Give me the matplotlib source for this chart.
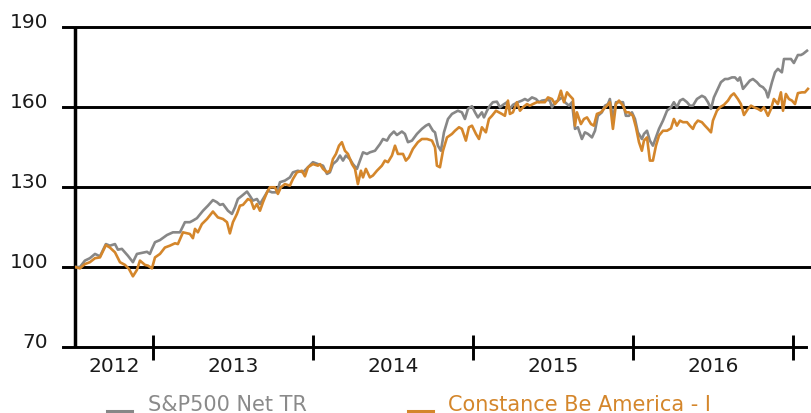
import matplotlib
matplotlib.use("Agg")
import matplotlib.pyplot as plt
from matplotlib.lines import Line2D
from matplotlib.transforms import blended_transform_factory

# ==================== DATEN ====================
# S&P500 Net TR (Zeit in Dezimaljahren, Wert indexiert auf 100)
sp_t = [2012.513, 2012.544, 2012.575, 2012.606, 2012.638, 2012.669, 2012.706, 2012.731, 2012.763, 2012.781,
        2012.806, 2012.825, 2012.844, 2012.875, 2012.900, 2012.931, 2012.963, 2012.981, 2012.994, 2013.013,
        2013.044, 2013.088, 2013.125, 2013.169, 2013.200, 2013.231, 2013.250, 2013.275, 2013.313, 2013.344,
        2013.375, 2013.400, 2013.419, 2013.438, 2013.469, 2013.494, 2013.513, 2013.531, 2013.556, 2013.588,
        2013.606, 2013.625, 2013.650, 2013.669, 2013.700, 2013.719, 2013.744, 2013.775, 2013.794, 2013.825,
        2013.856, 2013.875, 2013.906, 2013.938, 2013.969, 2014.000, 2014.031, 2014.063, 2014.088, 2014.106,
        2014.125, 2014.150, 2014.169, 2014.188, 2014.206, 2014.231, 2014.250, 2014.275, 2014.294, 2014.313,
        2014.338, 2014.356, 2014.388, 2014.419, 2014.438, 2014.463, 2014.481, 2014.506, 2014.525, 2014.556,
        2014.575, 2014.594, 2014.619, 2014.650, 2014.681, 2014.706, 2014.725, 2014.750, 2014.763, 2014.781,
        2014.800, 2014.819, 2014.844, 2014.869, 2014.888, 2014.906, 2014.931, 2014.950, 2014.969, 2014.994,
        2015.013, 2015.031, 2015.056, 2015.069, 2015.088, 2015.106, 2015.125, 2015.150, 2015.169, 2015.188,
        2015.213, 2015.231, 2015.250, 2015.281, 2015.306, 2015.325, 2015.344, 2015.369, 2015.394, 2015.413,
        2015.431, 2015.463, 2015.481, 2015.494, 2015.513, 2015.531, 2015.556, 2015.575, 2015.600, 2015.619,
        2015.638, 2015.656, 2015.681, 2015.700, 2015.719, 2015.744, 2015.763, 2015.781, 2015.806, 2015.825,
        2015.844, 2015.856, 2015.875, 2015.894, 2015.913, 2015.938, 2015.956, 2015.975, 2015.994, 2016.013,
        2016.031, 2016.056, 2016.069, 2016.088, 2016.106, 2016.125, 2016.144, 2016.163, 2016.188, 2016.213,
        2016.238, 2016.256, 2016.275, 2016.294, 2016.313, 2016.338, 2016.356, 2016.375, 2016.400, 2016.431,
        2016.450, 2016.469, 2016.488, 2016.506, 2016.531, 2016.550, 2016.575, 2016.594, 2016.619, 2016.638,
        2016.656, 2016.669, 2016.688, 2016.713, 2016.731, 2016.750, 2016.775, 2016.794, 2016.813, 2016.831,
        2016.844, 2016.869, 2016.888, 2016.906, 2016.931, 2016.944, 2016.969, 2016.988, 2017.006, 2017.031,
        2017.050, 2017.063, 2017.088]
sp_v = [100.0, 100.0, 102.4, 103.3, 104.9, 104.0, 108.6, 108.0, 108.6, 106.5,
        106.8, 105.5, 104.2, 101.8, 104.9, 105.3, 105.7, 104.9, 106.8, 109.3,
        110.1, 112.0, 113.0, 113.0, 116.8, 116.8, 117.4, 118.3, 121.1, 123.0,
        125.1, 124.3, 123.3, 123.6, 121.1, 119.9, 122.4, 125.5, 126.7, 128.3,
        126.7, 124.9, 125.5, 123.6, 126.7, 128.6, 128.0, 128.0, 131.8, 132.4,
        133.6, 135.5, 136.1, 135.5, 137.4, 139.3, 138.6, 138.0, 134.9, 135.5,
        138.6, 139.9, 141.8, 139.9, 141.8, 140.5, 138.6, 136.8, 139.9, 143.0,
        142.4, 143.0, 143.6, 146.1, 148.0, 147.4, 149.3, 150.8, 149.5, 150.8,
        149.9, 146.8, 147.4, 149.9, 151.8, 153.0, 153.6, 151.1, 150.5, 145.5,
        143.6, 150.5, 155.5, 157.4, 158.0, 158.6, 158.0, 155.5, 159.3, 160.3,
        158.0, 156.1, 158.0, 156.1, 158.6, 160.5, 161.8, 162.0, 159.9, 160.8,
        161.8, 159.3, 160.8, 161.8, 162.4, 163.0, 162.4, 163.6, 163.0, 161.8,
        162.4, 162.7, 162.4, 159.9, 161.8, 162.4, 163.6, 161.8, 160.5, 161.8,
        151.8, 152.4, 148.0, 150.5, 149.9, 148.6, 151.1, 156.7, 158.0, 160.5,
        161.1, 163.0, 155.5, 161.8, 161.8, 161.8, 156.7, 156.7, 158.0, 155.5,
        150.5, 148.0, 149.9, 151.1, 147.4, 145.5, 148.6, 151.8, 154.9, 158.6,
        159.9, 161.8, 159.9, 162.4, 163.0, 161.8, 160.5, 160.5, 163.0, 164.2,
        163.6, 161.8, 159.3, 163.6, 166.8, 169.3, 170.5, 170.5, 171.1, 171.1,
        169.9, 171.1, 166.8, 168.6, 169.9, 170.5, 169.3, 168.0, 167.4, 166.1,
        163.6, 169.3, 173.0, 174.3, 173.0, 178.0, 178.0, 178.0, 176.5, 179.5,
        179.5, 179.9, 181.1]

# Constance Be America - I
cba_t = [2012.513, 2012.544, 2012.575, 2012.606, 2012.638, 2012.669, 2012.706, 2012.731, 2012.763, 2012.794,
         2012.825, 2012.850, 2012.875, 2012.900, 2012.919, 2012.950, 2012.969, 2012.994, 2013.013, 2013.044,
         2013.075, 2013.106, 2013.138, 2013.156, 2013.188, 2013.231, 2013.250, 2013.263, 2013.281, 2013.306,
         2013.338, 2013.375, 2013.406, 2013.438, 2013.463, 2013.481, 2013.500, 2013.525, 2013.544, 2013.563,
         2013.594, 2013.613, 2013.631, 2013.650, 2013.669, 2013.688, 2013.713, 2013.731, 2013.763, 2013.781,
         2013.800, 2013.825, 2013.856, 2013.875, 2013.900, 2013.931, 2013.950, 2013.969, 2014.000, 2014.031,
         2014.044, 2014.063, 2014.088, 2014.106, 2014.125, 2014.144, 2014.163, 2014.181, 2014.200, 2014.219,
         2014.244, 2014.263, 2014.281, 2014.300, 2014.313, 2014.331, 2014.356, 2014.375, 2014.400, 2014.431,
         2014.450, 2014.469, 2014.494, 2014.513, 2014.531, 2014.563, 2014.581, 2014.600, 2014.625, 2014.656,
         2014.681, 2014.713, 2014.744, 2014.763, 2014.775, 2014.794, 2014.813, 2014.838, 2014.869, 2014.888,
         2014.913, 2014.931, 2014.956, 2014.975, 2014.994, 2015.019, 2015.038, 2015.056, 2015.081, 2015.100,
         2015.119, 2015.144, 2015.163, 2015.181, 2015.200, 2015.219, 2015.231, 2015.250, 2015.275, 2015.294,
         2015.313, 2015.338, 2015.356, 2015.375, 2015.400, 2015.431, 2015.450, 2015.469, 2015.494, 2015.513,
         2015.531, 2015.550, 2015.569, 2015.588, 2015.606, 2015.625, 2015.638, 2015.650, 2015.675, 2015.694,
         2015.713, 2015.738, 2015.756, 2015.775, 2015.800, 2015.819, 2015.838, 2015.856, 2015.875, 2015.894,
         2015.913, 2015.938, 2015.956, 2015.975, 2016.000, 2016.019, 2016.038, 2016.056, 2016.069, 2016.088,
         2016.106, 2016.125, 2016.144, 2016.163, 2016.188, 2016.213, 2016.238, 2016.256, 2016.275, 2016.294,
         2016.313, 2016.338, 2016.356, 2016.375, 2016.388, 2016.406, 2016.431, 2016.450, 2016.469, 2016.488,
         2016.500, 2016.525, 2016.544, 2016.569, 2016.594, 2016.613, 2016.631, 2016.656, 2016.675, 2016.694,
         2016.719, 2016.738, 2016.756, 2016.781, 2016.800, 2016.819, 2016.844, 2016.863, 2016.881, 2016.906,
         2016.925, 2016.938, 2016.956, 2016.975, 2016.994, 2017.013, 2017.031, 2017.056, 2017.075, 2017.094]
cba_v = [100.0, 99.5, 101.1, 101.8, 103.3, 103.6, 108.2, 107.3, 105.5, 101.8,
         100.8, 99.3, 96.5, 98.9, 102.4, 100.8, 100.5, 99.5, 103.6, 104.9,
         107.3, 108.0, 108.9, 108.6, 113.0, 112.4, 110.8, 114.3, 113.0, 116.1,
         118.0, 120.8, 118.6, 118.0, 116.8, 112.6, 116.8, 119.9, 123.0, 123.3,
         125.5, 124.9, 121.8, 123.6, 121.1, 124.3, 128.0, 129.9, 129.9, 127.4,
         129.9, 131.1, 130.5, 133.0, 135.5, 136.1, 134.0, 137.4, 138.6, 138.0,
         138.6, 136.8, 135.5, 136.1, 140.5, 142.4, 145.5, 146.8, 143.6, 142.4,
         138.6, 136.8, 131.1, 136.1, 133.6, 136.8, 133.6, 134.3, 136.1, 138.0,
         139.9, 139.3, 141.8, 145.5, 142.4, 142.4, 139.9, 141.1, 144.3, 146.8,
         148.0, 148.0, 147.4, 144.9, 138.0, 137.4, 143.6, 148.6, 149.9, 151.1,
         152.4, 151.8, 147.4, 152.4, 153.0, 149.9, 148.0, 152.4, 150.5, 155.5,
         156.7, 158.6, 158.0, 157.4, 156.7, 162.4, 157.4, 158.0, 161.8, 158.6,
         159.9, 161.1, 160.5, 161.1, 161.8, 161.8, 161.8, 163.6, 163.0, 161.1,
         162.4, 166.1, 161.8, 165.5, 164.2, 163.0, 153.0, 158.0, 153.6, 155.5,
         156.1, 153.6, 153.0, 157.4, 158.0, 159.3, 160.5, 161.8, 151.8, 161.1,
         162.4, 160.5, 158.0, 158.0, 156.7, 152.4, 146.8, 143.6, 147.4, 148.6,
         139.9, 139.9, 145.5, 149.3, 151.1, 151.1, 152.0, 155.5, 153.0, 154.9,
         154.3, 154.3, 153.0, 151.8, 153.6, 154.9, 154.3, 153.0, 151.8, 150.5,
         154.9, 158.6, 159.9, 160.8, 162.4, 164.2, 165.1, 163.0, 161.1, 157.0,
         159.3, 160.5, 159.9, 159.3, 158.6, 159.9, 156.7, 159.3, 163.0, 161.1,
         165.5, 158.6, 164.9, 163.0, 162.4, 161.1, 165.2, 165.5, 165.5, 166.8]

year_labels = ["2012", "2013", "2014", "2015", "2016"]
year_bounds = [2013, 2014, 2015, 2016, 2017]
y_levels = [70, 100, 130, 160, 190]
series_names = ["S&P500 Net TR", "Constance Be America - I"]
# =======================================================

GRAY = "#878787"
ORANGE = "#D4862B"

fig = plt.figure(figsize=(8.11, 4.14), dpi=100)
ax = fig.add_axes([75 / 811, 66 / 414, 736 / 811, 320 / 414])
ax.set_xlim(2012.513, 2017.113)
ax.set_ylim(70, 190)

# Rahmen
for side in ["top", "right", "bottom"]:
    ax.spines[side].set_visible(False)
ax.spines["left"].set_linewidth(2.5)
ax.spines["left"].set_color("black")
ax.spines["left"].set_capstyle("butt")

# Horizontale Linien (ragen links ueber die Achse hinaus)
for v in y_levels:
    xmax = 0.993 if v == 70 else 1.0
    ax.axhline(v, xmin=-12 / 736, xmax=xmax, color="black", lw=2.1,
               clip_on=False, zorder=1)

# Kurven
ax.plot(sp_t, sp_v, color=GRAY, lw=1.9, zorder=3)
ax.plot(cba_t, cba_v, color=ORANGE, lw=1.9, zorder=4)

# X-Achse: Jahresgrenzen als Striche, Beschriftung mittig
ax.set_xticks(year_bounds)
ax.tick_params(axis="x", direction="inout", length=18, width=2.1,
               color="black", labelbottom=False)
ax.set_yticks([])

trans_x = blended_transform_factory(ax.transData, ax.transAxes)
mids = [(ax.get_xlim()[0] + year_bounds[0]) / 2] + [b + 0.5 for b in year_bounds[:-1]]
for m, lab in zip(mids, year_labels):
    ax.text(m, -0.059, lab, transform=trans_x, ha="center", va="center",
            fontsize=14.5, color="#1a1a1a")

trans_y = blended_transform_factory(ax.transAxes, ax.transData)
for v in y_levels:
    ax.text(-27 / 736, v, str(v), transform=trans_y, ha="right", va="baseline",
            fontsize=14.5, color="#1a1a1a")

# Legende
ly = 2.5 / 414
fig.add_artist(Line2D([107 / 811, 132 / 811], [ly, ly], color=GRAY, lw=2.2))
fig.text(148 / 811, ly, series_names[0], color="#8a8a8a", fontsize=15, va="baseline")
fig.add_artist(Line2D([408 / 811, 433 / 811], [ly, ly], color=ORANGE, lw=2.2))
fig.text(448 / 811, ly, series_names[1], color=ORANGE, fontsize=15, va="baseline")

plt.savefig("out.png", dpi=100)
plt.close()
